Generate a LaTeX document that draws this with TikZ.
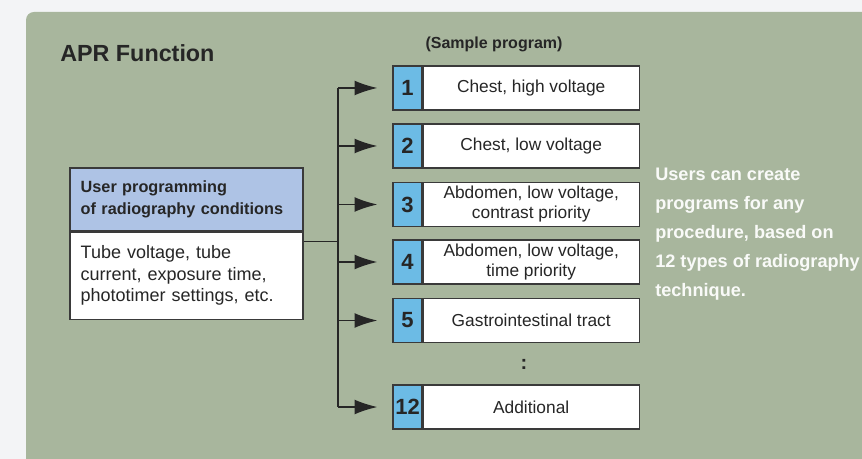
\documentclass[tikz,border=0pt]{standalone}
\usepackage{fontspec}
\setmainfont{Liberation Sans}
\usetikzlibrary{arrows.meta,positioning}
\definecolor{pagegray}{HTML}{F3F4F6}
\definecolor{panelgreen}{HTML}{A8B69D}
\definecolor{headblue}{HTML}{AEC3E5}
\definecolor{numblue}{HTML}{6CBBE5}
\definecolor{edgegray}{HTML}{3A3A3A}
\definecolor{inkgray}{HTML}{262626}
\tikzset{
  numcell/.style={draw=edgegray, line width=0.9pt, fill=numblue, minimum width=21.75pt,
    minimum height=33pt, inner sep=0pt, text=inkgray,
    font=\fontsize{16.5}{18}\selectfont\bfseries},
  progcell/.style={draw=edgegray, line width=0.9pt, fill=white, minimum width=162pt,
    minimum height=33pt, inner sep=0pt, align=center, text=inkgray,
    font=\fontsize{13}{15}\selectfont},
  headbox/.style={draw=edgegray, line width=0.9pt, fill=headblue, text width=158.75pt,
    inner xsep=8pt, minimum height=47.25pt, align=left, text=inkgray,
    font=\fontsize{12.2}{16.5}\selectfont\bfseries},
  bodybox/.style={draw=edgegray, line width=0.9pt, fill=white, text width=158.75pt,
    inner xsep=8pt, minimum height=65.25pt, align=left, text=inkgray,
    font=\fontsize{13.5}{16.1}\selectfont},
  wire/.style={draw=inkgray, line width=1pt},
  arrowline/.style={wire, -{Latex[length=17pt,width=11pt]}, shorten >=11.25pt}
}
\begin{document}
\begin{tikzpicture}[x=0.75pt,y=-0.75pt]
        % Page and panel
        \useasboundingbox (0,0) rectangle (862,459);
        \fill[pagegray] (0,0) rectangle (862,459);
        \fill[panelgreen, rounded corners=6pt] (26,12) rectangle (880,480);
        % Headings
        \node[anchor=base west, inner sep=0pt, text=inkgray,
          font=\fontsize{17.5}{21}\selectfont\bfseries] (title) at (60,62) {APR Function};
        \node[text=inkgray, font=\fontsize{12}{14}\selectfont\bfseries] (sample) at (494,44) {(Sample program)};
        % Input box
        \node[headbox] (head) at (186.5,199.5) {User programming\\of radiography conditions};
        \node[bodybox, below=0pt of head] (body) {Tube voltage, tube\\current, exposure time,\\phototimer settings, etc.};
        % Sample programs
        \coordinate (trunk) at (338,0);
        \foreach \y/\n/\txt in {88/1/{Chest, high voltage}, 146/2/{Chest, low voltage},
            204.5/3/{Abdomen, low voltage,\\contrast priority}, 262/4/{Abdomen, low voltage,\\time priority},
            320.5/5/{Gastrointestinal tract}, 407/12/{Additional}} {
          \node[numcell] (num\n) at (407.5,\y) {\n};
          \node[progcell, right=0pt of num\n] (prog\n) {\txt};
          \draw[arrowline] (num\n.west -| trunk) -- (num\n.west);
        }
        \node[text=inkgray, font=\fontsize{15}{17}\selectfont\bfseries] (dots) at (524,364) {:};
        % Wires to programs
        \draw[wire] (trunk |- num1.west) -- (trunk |- num12.west);
        \draw[wire] ([yshift=-7.5pt]body.north east) -- ([yshift=-7.5pt]body.north east -| trunk);
        % Note
        \node[anchor=west, inner sep=0pt, align=left, text=white!93!panelgreen,
          font=\fontsize{13.6}{21.75}\selectfont\bfseries] (note) at (655,234.5)
          {Users can create\\programs for any\\procedure, based on\\12 types of radiography\\technique.};
    \end{tikzpicture}
\end{document}
